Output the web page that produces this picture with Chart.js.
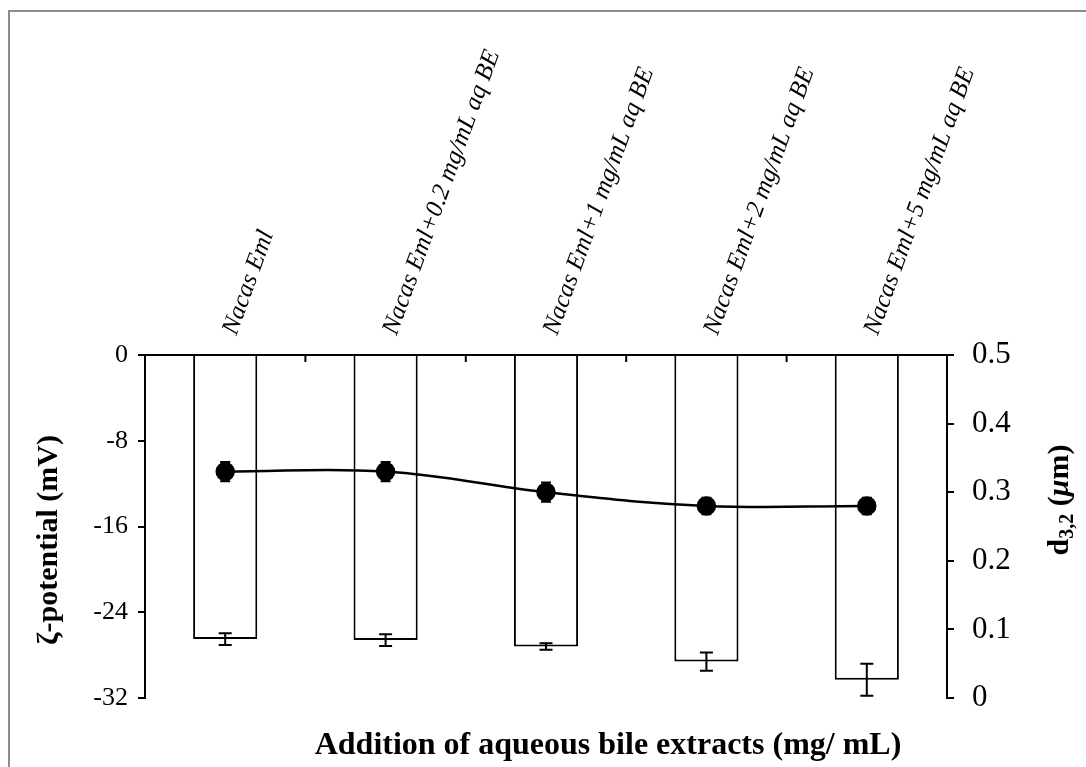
<!DOCTYPE html>
<html>
<head>
<meta charset="utf-8">
<script src="https://cdn.jsdelivr.net/npm/chart.js@4.4.1/dist/chart.umd.min.js"></script>
<style>
    html, body { margin: 0; padding: 0; background: #fff; overflow: hidden; }
    #wrap { position: relative; width: 1086px; height: 767px; }
    #frame { position: absolute; left: 8px; top: 10px; width: 1200px; height: 900px;
             border-left: 2px solid #8c8c8c; border-top: 2px solid #8c8c8c; pointer-events: none; }
    canvas { position: absolute; left: 0; top: 0; }
</style>
</head>
<body>
<div id="wrap">
    <div id="frame"></div>
    <canvas id="combo" width="1086" height="767"></canvas>
</div>
<script>
'use strict';

// --- Data ---
const categories = [
    'Nacas Eml',
    'Nacas Eml+0.2 mg/mL aq BE',
    'Nacas Eml+1 mg/mL aq BE',
    'Nacas Eml+2 mg/mL aq BE',
    'Nacas Eml+5 mg/mL aq BE'
];
const zetaPotential = [-26.5, -26.6, -27.2, -28.6, -30.3];   // mV, bars
const zetaError = [0.55, 0.55, 0.3, 0.85, 1.5];
const dropletSize = [0.33, 0.33, 0.30, 0.28, 0.28];          // d3,2 in um, line
const dropletError = [0.014, 0.014, 0.014, 0.012, 0.012];
const zetaTicks = [0, -8, -16, -24, -32];
const sizeTicks = [0, 0.1, 0.2, 0.3, 0.4, 0.5];

const SERIF = "'Liberation Serif', 'Times New Roman', serif";

document.addEventListener('DOMContentLoaded', () => {
    const canvas = document.getElementById('combo');
    if (!canvas) {
        console.error('Canvas not found');
        return;
    }
    const ctx = canvas.getContext('2d');

    // error bars for both series, drawn through the scales
    const errorBars = {
        id: 'errorBars',
        afterDatasetsDraw(chart) {
            const c = chart.ctx;
            const sets = [
                { meta: chart.getDatasetMeta(0), vals: zetaPotential, errs: zetaError, scale: chart.scales.y, cap: 6.5 },
                { meta: chart.getDatasetMeta(1), vals: dropletSize, errs: dropletError, scale: chart.scales.y1, cap: 5 }
            ];
            c.save();
            c.strokeStyle = '#000';
            c.lineWidth = 2;
            sets.forEach(s => {
                s.meta.data.forEach((el, i) => {
                    const x = el.x;
                    const yTop = s.scale.getPixelForValue(s.vals[i] + s.errs[i]);
                    const yBot = s.scale.getPixelForValue(s.vals[i] - s.errs[i]);
                    c.beginPath();
                    c.moveTo(x, yTop); c.lineTo(x, yBot);
                    c.moveTo(x - s.cap, yTop); c.lineTo(x + s.cap, yTop);
                    c.moveTo(x - s.cap, yBot); c.lineTo(x + s.cap, yBot);
                    c.stroke();
                });
            });
            c.restore();
        }
    };

    // small inward ticks on the top axis between categories, plus axis titles
    const decorations = {
        id: 'decorations',
        afterDraw(chart) {
            const c = chart.ctx;
            const xs = chart.scales.x;
            const area = chart.chartArea;
            c.save();
            c.strokeStyle = '#000';
            c.lineWidth = 2;
            for (let i = 0; i < categories.length - 1; i++) {
                const xb = (xs.getPixelForValue(i) + xs.getPixelForValue(i + 1)) / 2;
                c.beginPath();
                c.moveTo(xb, area.top);
                c.lineTo(xb, area.top + 7);
                c.stroke();
            }

            c.fillStyle = '#000';
            c.textBaseline = 'middle';

            // left title
            c.save();
            c.translate(49, 540);
            c.rotate(-Math.PI / 2);
            c.font = `bold 30px ${SERIF}`;
            c.textAlign = 'center';
            c.fillText('ζ-potential (mV)', 0, 0);
            c.restore();

            // right title with subscript
            c.save();
            c.translate(1060, 500);
            c.rotate(-Math.PI / 2);
            c.textAlign = 'left';
            const parts = [
                { t: 'd', f: `bold 30px ${SERIF}`, dy: 0 },
                { t: '3,2', f: `bold 20px ${SERIF}`, dy: 8 },
                { t: ' (', f: `bold 30px ${SERIF}`, dy: 0 },
                { t: 'μ', f: `italic bold 30px ${SERIF}`, dy: 0 },
                { t: 'm)', f: `bold 30px ${SERIF}`, dy: 0 }
            ];
            let total = 0;
            parts.forEach(p => { c.font = p.f; total += c.measureText(p.t).width; });
            let x = -total / 2;
            parts.forEach(p => {
                c.font = p.f;
                c.fillText(p.t, x, p.dy);
                x += c.measureText(p.t).width;
            });
            c.restore();

            // bottom title
            c.font = `bold 32px ${SERIF}`;
            c.textAlign = 'center';
            c.fillText('Addition of aqueous bile extracts (mg/ mL)', 608, 746);
            c.restore();
        }
    };

    const axisLine = { display: true, color: '#000', width: 2 };
    const tickMarks = { drawOnChartArea: false, drawTicks: true, tickLength: 7, color: '#000', lineWidth: 2 };

    new Chart(ctx, {
        data: {
            labels: categories,
            datasets: [
                {
                    type: 'bar',
                    data: zetaPotential,
                    yAxisID: 'y',
                    backgroundColor: '#fff',
                    borderColor: '#000',
                    borderWidth: 2,
                    barPercentage: 0.4,
                    categoryPercentage: 1.0,
                    order: 2
                },
                {
                    type: 'line',
                    data: dropletSize,
                    yAxisID: 'y1',
                    borderColor: '#000',
                    borderWidth: 2.5,
                    tension: 0.4,
                    pointRadius: 8.5,
                    pointBackgroundColor: '#000',
                    pointBorderColor: '#000',
                    order: 1
                }
            ]
        },
        options: {
            responsive: false,
            animation: false,
            layout: { padding: { top: 0, left: 0, right: 0, bottom: 69 } },
            plugins: { legend: { display: false }, tooltip: { enabled: false }, title: { display: false } },
            scales: {
                x: {
                    type: 'category',
                    position: 'top',
                    offset: true,
                    afterFit: s => { s.height = 355; },
                    grid: { display: false, drawTicks: false },
                    border: axisLine,
                    ticks: {
                        minRotation: 70,
                        maxRotation: 70,
                        padding: 16,
                        labelOffset: 33,
                        color: '#000',
                        font: { family: SERIF, size: 25, style: 'italic' }
                    }
                },
                y: {
                    position: 'left',
                    min: zetaTicks[zetaTicks.length - 1],
                    max: zetaTicks[0],
                    afterFit: s => { s.width = 145; },
                    afterBuildTicks: s => { s.ticks = zetaTicks.map(v => ({ value: v })); },
                    grid: tickMarks,
                    border: axisLine,
                    ticks: { padding: 10, color: '#000', font: { family: SERIF, size: 26 } }
                },
                y1: {
                    position: 'right',
                    min: sizeTicks[0],
                    max: sizeTicks[sizeTicks.length - 1],
                    afterFit: s => { s.width = 139; },
                    afterBuildTicks: s => { s.ticks = sizeTicks.map(v => ({ value: v })); },
                    grid: tickMarks,
                    border: axisLine,
                    ticks: {
                        padding: 18,
                        color: '#000',
                        font: { family: SERIF, size: 31 },
                        callback: v => String(+Number(v).toFixed(1))
                    }
                }
            }
        },
        plugins: [errorBars, decorations]
    });
});
</script>
</body>
</html>
